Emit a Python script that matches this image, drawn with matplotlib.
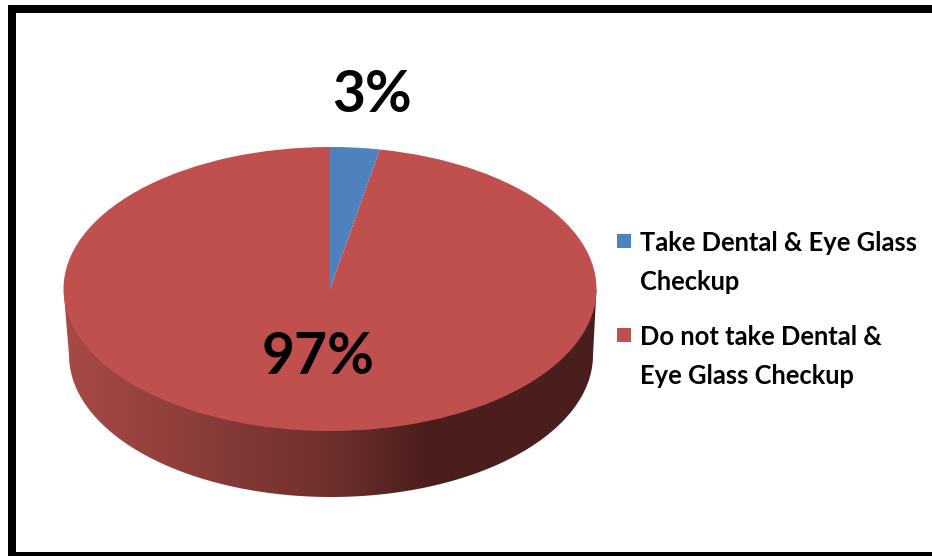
import matplotlib
matplotlib.use("Agg")
import matplotlib.pyplot as plt
from matplotlib.colors import LinearSegmentedColormap
from matplotlib.patches import Polygon
import numpy as np

labels = ["Take Dental & Eye Glass\nCheckup", "Do not take Dental &\nEye Glass Checkup"]
values = [3, 97]
colors = ["#4f81bd", "#c0504d"]
plt.rcParams["font.family"] = ["Lato", "DejaVu Sans"]

W, H = 932, 556
fig = plt.figure(figsize=(W/100, H/100), dpi=100)

# hele figuren i pikselkoordinater
bg = fig.add_axes([0, 0, 1, 1])
bg.set_xlim(0, W); bg.set_ylim(H, 0); bg.axis("off")

# ramme (ingen hoyre kant i originalen)
bg.fill_between([8, 16], 5, 556, color="black", lw=0)
bg.fill_between([8, 932], 5, 13, color="black", lw=0)
bg.fill_between([8, 932], 552, 556, color="black", lw=0)

# siden av kaken: gradient klippet til en halvellipse
t = np.linspace(0, np.pi, 200)
bot = np.c_[331 + 262*np.cos(t), 355 + 142*np.sin(t)]
side = Polygon(np.r_[[[63.5, 289]], bot[::-1], [[596.5, 289]]], transform=bg.transData, fc="none", ec="none")
bg.add_patch(side)
cmap = LinearSegmentedColormap.from_list("side", [(0, "#a84a47"), (0.5, "#6f302d"), (0.68, "#4c1e1d"), (1, "#4a1e1d")])
im = bg.imshow(np.linspace(0, 1, 256)[None, :], cmap=cmap, extent=[64, 597, 500, 285], aspect="auto", zorder=1)
im.set_clip_path(side)
bg.set_xlim(0, W); bg.set_ylim(H, 0)

# toppen av kaken, flatklemt
ax = fig.add_axes([63.5/W, 1 - 431/H, 533/W, 284/H])
wedges, _ = ax.pie(values, colors=colors, startangle=90, counterclock=False, radius=1)
ax.set_aspect("auto")
ax.set_xlim(-1, 1); ax.set_ylim(-1, 1)

over = fig.add_axes([0, 0, 1, 1])
over.set_xlim(0, W); over.set_ylim(H, 0); over.axis("off")
over.patch.set_alpha(0)

# prosenttekster
over.text(372, 95, f"{values[0]}%", ha="center", va="center", fontsize=41, fontweight="bold", color="black")
over.text(318, 357, f"{values[1]}%", ha="center", va="center", fontsize=41, fontweight="bold", color="black")

# forklaring
leg_y = [241, 335]
for i in range(len(labels)):
    over.scatter(624, leg_y[i], marker="s", s=100, color=colors[i], lw=0)
    over.text(640, leg_y[i] - 10, labels[i], ha="left", va="top", fontsize=18.4, fontweight="bold",
              color="black", linespacing=1.75)

fig.savefig("out.png", dpi=100)
